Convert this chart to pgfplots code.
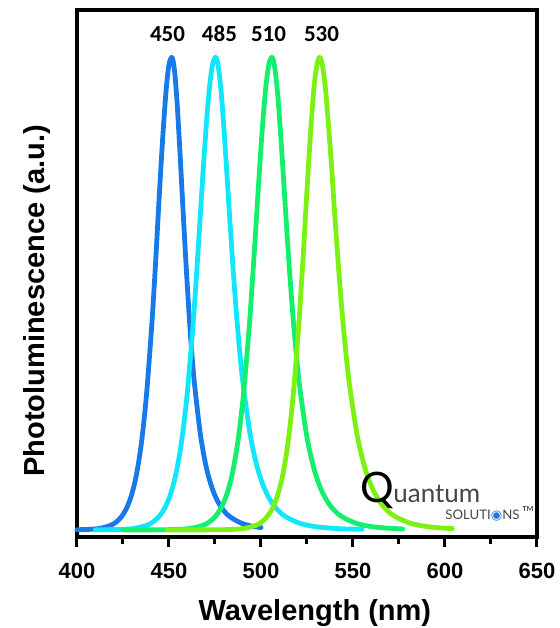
\documentclass[border=0pt]{standalone}
\usepackage{fontspec}
\setmainfont{Liberation Sans}
\newfontfamily\carlito{Carlito}
\newfontfamily\logofont{Lato}
\newfontfamily\symfont{DejaVu Sans}
\usepackage{pgfplots}
\pgfplotsset{compat=1.18}

\definecolor{pblue}{RGB}{24,122,232}
\definecolor{pcyan}{RGB}{20,230,250}
\definecolor{pgreen}{RGB}{20,240,110}
\definecolor{pyg}{RGB}{125,240,20}
\definecolor{logogray}{RGB}{70,70,70}

\begin{document}
\begin{tikzpicture}
\begin{axis}[
    scale only axis,
    width=230pt, height=263.5pt,
    xmin=400, xmax=650,
    ymin=-0.015, ymax=1.10,
    clip=false,
    axis line style={line width=2pt},
    xtick={400,450,...,650},
    minor x tick num=1,
    ytick=\empty,
    tick align=outside,
    xtick pos=bottom,
    major tick length=5pt,
    minor tick length=3.5pt,
    every tick/.style={black, line width=1.5pt},
    /pgf/number format/assume math mode=true,
    xticklabel style={font=\bfseries\fontsize{11}{13}\selectfont, yshift=-4.5pt},
    every axis x label/.style={at={(axis description cs:0.517,0)}, anchor=base,
        yshift=-41.5pt, font=\bfseries\fontsize{14.5}{17}\selectfont},
    every axis y label/.style={at={(axis description cs:-0.087,0.448)}, rotate=90,
        anchor=center, font=\bfseries\fontsize{14.5}{17}\selectfont},
    xlabel={Wavelength (nm)},
    ylabel={Photoluminescence (a.u.)},
    every axis plot/.append style={line width=2.4pt, line join=round, line cap=round, smooth},
]
\coordinate (sw) at (rel axis cs:0,0);
\coordinate (ne) at (rel axis cs:1,1);

% 450 nm
\addplot[pblue] coordinates {
 (400.0,0.0004) (407.4,0.0013) (412.9,0.0036) (418.4,0.0099) (421.15,0.0162)
 (423.9,0.0266) (426.65,0.0435) (429.4,0.0707) (432.15,0.1136) (434.9,0.1807)
 (437.65,0.2804) (440.4,0.4200) (441.8,0.5045) (443.15,0.5966) (444.5,0.6925)
 (445.9,0.7864) (447.3,0.8716) (448.65,0.9399) (450.0,0.9845) (451.4,1.0)
 (452.2,0.9928) (453.0,0.9718) (453.75,0.9385) (454.55,0.8951) (456.1,0.7885)
 (457.7,0.6720) (459.3,0.5598) (460.85,0.4598) (462.4,0.3743) (464.0,0.3040)
 (467.15,0.1998) (470.3,0.1319) (473.45,0.0880) (476.6,0.0595) (479.75,0.0408)
 (482.9,0.0284) (489.2,0.0144) (495.5,0.0076) (500.0,0.0050)
};
% 485 nm
\addplot[pcyan] coordinates {
 (410.0,0.0001) (425.6,0.0013) (431.8,0.0036) (438.0,0.0099) (441.1,0.0162)
 (444.2,0.0266) (447.3,0.0435) (450.4,0.0707) (453.5,0.1136) (456.6,0.1807)
 (459.7,0.2804) (462.8,0.4200) (464.35,0.5045) (465.9,0.5966) (467.45,0.6925)
 (469.0,0.7864) (470.55,0.8716) (472.1,0.9399) (473.65,0.9845) (475.2,1.0)
 (476.15,0.9928) (477.1,0.9718) (478.05,0.9385) (479.0,0.8951) (480.9,0.7885)
 (482.8,0.6720) (484.7,0.5598) (486.6,0.4598) (488.5,0.3743) (490.4,0.3040)
 (494.2,0.1998) (498.0,0.1319) (501.8,0.0880) (505.6,0.0595) (509.4,0.0408)
 (513.2,0.0284) (520.8,0.0144) (528.4,0.0076) (536.0,0.0043) (543.6,0.0024)
 (555.0,0.0012)
};
% 510 nm
\addplot[pgreen] coordinates {
 (425.0,0.0) (443.8,0.0002) (456.2,0.0013) (462.4,0.0036) (468.6,0.0099)
 (471.7,0.0162) (474.8,0.0266) (477.9,0.0435) (481.0,0.0707) (484.1,0.1136)
 (487.2,0.1807) (490.3,0.2804) (493.4,0.4200) (494.95,0.5045) (496.5,0.5966)
 (498.05,0.6925) (499.6,0.7864) (501.15,0.8716) (502.7,0.9399) (504.25,0.9845)
 (505.8,1.0) (506.75,0.9928) (507.7,0.9718) (508.65,0.9385) (509.6,0.8951)
 (511.5,0.7885) (513.4,0.6720) (515.3,0.5598) (517.2,0.4598) (519.1,0.3743)
 (521.0,0.3040) (524.8,0.1998) (528.6,0.1319) (532.4,0.0880) (536.2,0.0595)
 (540.0,0.0408) (543.8,0.0284) (551.4,0.0144) (559.0,0.0076) (566.6,0.0043)
 (577.0,0.0020)
};
% 530 nm
\addplot[pyg] coordinates {
 (449.0,0.0) (474.3,0.0002) (485.8,0.0013) (491.55,0.0036) (497.3,0.0099)
 (500.2,0.0162) (503.05,0.0266) (505.9,0.0435) (508.8,0.0707) (511.7,0.1136)
 (514.55,0.1807) (517.4,0.2804) (520.3,0.4200) (521.7,0.5045) (523.2,0.5966)
 (524.6,0.6925) (526.05,0.7864) (527.5,0.8716) (528.9,0.9399) (530.4,0.9845)
 (531.8,1.0) (532.8,0.9928) (533.85,0.9718) (534.9,0.9385) (535.9,0.8951)
 (538.0,0.7885) (540.0,0.6720) (542.05,0.5598) (544.1,0.4598) (546.15,0.3743)
 (548.2,0.3040) (552.3,0.1998) (556.4,0.1319) (560.5,0.0880) (564.6,0.0595)
 (568.7,0.0408) (572.8,0.0284) (581.0,0.0144) (589.2,0.0076) (597.4,0.0043)
 (604.0,0.0028)
};

% peak labels
\begin{scope}[every node/.style={font=\carlito\bfseries\fontsize{11.5}{13}\selectfont}]
\node at (axis cs:449.2,1.05) {450};
\node at (axis cs:477.4,1.05) {485};
\node at (axis cs:504.1,1.05) {510};
\node at (axis cs:532.9,1.05) {530};
\end{scope}

% logo
\node[anchor=base east, inner sep=0pt, font=\logofont\fontsize{21}{23}\selectfont] at (axis cs:572.5,0.059) {Q};
\node[anchor=base west, inner sep=0pt, text=logogray, font=\logofont\fontsize{13}{15}\selectfont] at (axis cs:571.7,0.059) {uantum};
\node[anchor=base west, inner sep=0pt, text=logogray, font=\logofont\fontsize{6.6}{8}\selectfont] at (axis cs:600,0.021) {SOLUTI{\symfont\color{pblue}◉}NS};
\node[anchor=base west, inner sep=0pt, font=\logofont\fontsize{3.5}{4}\selectfont] at (axis cs:642,0.040) {TM};
\end{axis}
\pgfresetboundingbox
\path ([shift={(-38.5pt,-45.5pt)}]sw) rectangle ([shift={(11.5pt,5pt)}]ne);
\end{tikzpicture}
\end{document}
